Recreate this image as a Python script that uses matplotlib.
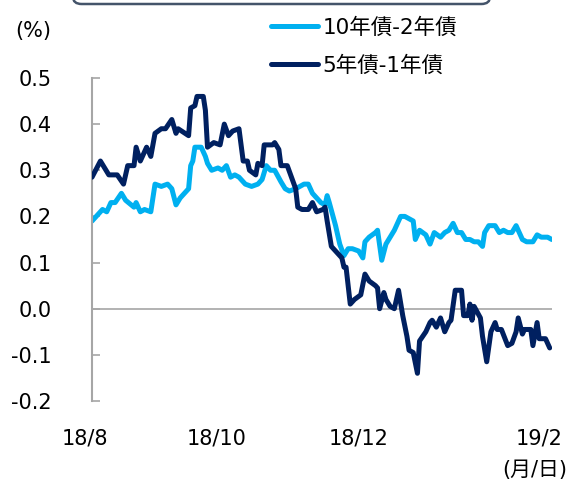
import matplotlib
matplotlib.use("Agg")
import matplotlib.pyplot as plt
from matplotlib.patches import FancyBboxPatch
import matplotlib.transforms as mtransforms

plt.rcParams['font.family'] = ['DejaVu Sans', 'Noto Sans CJK JP']

## data (x = days from 2018/8/1)
days_10_2 = [0, 3, 5, 7, 9, 11, 14, 16, 20, 21, 23, 25, 28, 30, 33, 36, 38, 40, 42, 45,
             46, 47, 48, 49, 52, 54, 55, 57, 60, 62, 64, 66, 68, 70, 73, 76, 79, 81, 83, 85,
             87, 90, 92, 94, 97, 99, 101, 103, 105, 108, 109, 111, 112, 113, 116, 118, 120, 122, 124, 127,
             129, 130, 132, 135, 136, 138, 140, 142, 144, 147, 149, 151, 153, 154, 156, 159, 161, 163, 166, 168,
             170, 172, 174, 176, 178, 180, 182, 184, 186, 187, 189, 192, 194, 196, 198, 200, 202, 205, 207, 210,
             212, 214, 217, 219]
spread_10_2 = [0.19, 0.205, 0.215, 0.21, 0.23, 0.23, 0.25, 0.235, 0.22, 0.23, 0.21, 0.215, 0.21, 0.27, 0.265, 0.27, 0.26, 0.225, 0.24, 0.255,
               0.26, 0.31, 0.32, 0.35, 0.35, 0.33, 0.315, 0.30, 0.305, 0.30, 0.31, 0.285, 0.29, 0.285, 0.27, 0.265, 0.27, 0.28, 0.31, 0.30,
               0.30, 0.275, 0.26, 0.255, 0.26, 0.265, 0.27, 0.27, 0.25, 0.235, 0.23, 0.225, 0.245, 0.23, 0.18, 0.14, 0.115, 0.13, 0.13, 0.125,
               0.11, 0.145, 0.155, 0.165, 0.17, 0.105, 0.14, 0.155, 0.17, 0.20, 0.20, 0.195, 0.19, 0.15, 0.17, 0.16, 0.14, 0.165, 0.155, 0.165,
               0.17, 0.185, 0.165, 0.165, 0.15, 0.15, 0.145, 0.145, 0.135, 0.165, 0.18, 0.18, 0.165, 0.17, 0.165, 0.165, 0.18, 0.15, 0.145, 0.145,
               0.16, 0.155, 0.155, 0.15]

days_5_1 = [0, 4, 8, 12, 15, 17, 20, 21, 23, 26, 28, 30, 33, 35, 38, 40, 41, 46, 47, 49,
            50, 53, 54, 55, 58, 61, 63, 65, 67, 70, 72, 74, 75, 78, 79, 81, 82, 86, 87, 89,
            90, 93, 95, 97, 98, 100, 103, 105, 107, 110, 111, 112, 114, 117, 119, 120, 121, 122, 123, 125,
            128, 130, 132, 135, 136, 137, 139, 140, 142, 144, 146, 148, 150, 151, 153, 155, 156, 159, 161, 162,
            164, 166, 168, 170, 171, 173, 176, 177, 179, 180, 181, 182, 185, 186, 188, 190, 192, 193, 195, 198,
            200, 202, 203, 205, 206, 209, 210, 212, 213, 216, 218]
spread_5_1 = [0.285, 0.32, 0.29, 0.29, 0.27, 0.31, 0.31, 0.35, 0.32, 0.35, 0.33, 0.38, 0.39, 0.39, 0.41, 0.38, 0.39, 0.375, 0.435, 0.44,
              0.46, 0.46, 0.43, 0.35, 0.36, 0.355, 0.40, 0.375, 0.385, 0.39, 0.32, 0.32, 0.30, 0.29, 0.315, 0.31, 0.355, 0.355, 0.36, 0.345,
              0.31, 0.31, 0.285, 0.26, 0.22, 0.215, 0.215, 0.23, 0.21, 0.215, 0.22, 0.19, 0.135, 0.12, 0.11, 0.09, 0.09, 0.05, 0.01, 0.02,
              0.03, 0.075, 0.06, 0.05, 0.045, 0.0, 0.035, 0.02, 0.005, 0.0, 0.04, -0.015, -0.06, -0.09, -0.095, -0.14, -0.07, -0.05, -0.03, -0.025,
              -0.04, -0.02, -0.05, -0.03, -0.025, 0.04, 0.04, -0.015, -0.015, 0.01, -0.025, 0.005, -0.02, -0.06, -0.115, -0.05, -0.03, -0.045, -0.045, -0.08,
              -0.075, -0.05, -0.02, -0.055, -0.045, -0.045, -0.08, -0.03, -0.065, -0.065, -0.085]

month_labels = ['18/8', '18/10', '18/12', '19/2']
month_label_days = [-3.5, 59.5, 127, 213]
y_ticks = [0.5, 0.4, 0.3, 0.2, 0.1, 0.0, -0.1, -0.2]

light = '#00b0f0'
dark = '#002060'

fig = plt.figure(figsize=(5.73, 4.84), dpi=100)
ax = fig.add_axes([0.1606, 0.1715, 0.8024, 0.6674])

ax.axhline(0, color='#a6a6a6', lw=1.2, zorder=1)
ax.plot(days_10_2, spread_10_2, color=light, lw=3.6, solid_joinstyle='round', solid_capstyle='round', zorder=2, label='10年債-2年債')
ax.plot(days_5_1, spread_5_1, color=dark, lw=3.6, solid_joinstyle='round', solid_capstyle='round', zorder=3, label='5年債-1年債')

ax.set_xlim(0, 219)
ax.set_ylim(-0.2, 0.5)
ax.set_yticks(y_ticks)
ax.set_yticklabels(['%.1f' % v for v in y_ticks])
# pad in points: ~40 px gap between labels and axis
ax.tick_params(axis='y', direction='in', length=6, width=1.2, color='#a6a6a6',
               labelsize=15, pad=29)
ax.set_xticks([])
for s in ['top', 'right', 'bottom']:
    ax.spines[s].set_visible(False)
ax.spines['left'].set_color('#a6a6a6')
ax.spines['left'].set_linewidth(1.5)

trans = mtransforms.blended_transform_factory(ax.transData, fig.transFigure)
for d, lab in zip(month_label_days, month_labels):
    ax.text(d, 1 - 438 / 484, lab, transform=trans, ha='center', va='center',
            fontsize=15, clip_on=False)

fig.text(15 / 573, 1 - 31 / 484, '(%)', fontsize=15, va='center', ha='left')
fig.text(567 / 573, 1 - 470 / 484, '(月/日)', fontsize=15, va='center', ha='right')

leg = fig.legend(loc='upper left', bbox_to_anchor=(262 / 573, 1 - 9 / 484), frameon=False,
                 fontsize=15.5, handlelength=2.2, handletextpad=0.2, labelspacing=0.8,
                 borderaxespad=0)

box = FancyBboxPatch((73 / 573, 1 - 4 / 484), 417 / 573, 0.2,
                     boxstyle='round,pad=0,rounding_size=0.015',
                     transform=fig.transFigure, facecolor='white',
                     edgecolor='#44546a', lw=1.8, clip_on=False)
fig.patches.append(box)

fig.savefig('out.png', dpi=100)
